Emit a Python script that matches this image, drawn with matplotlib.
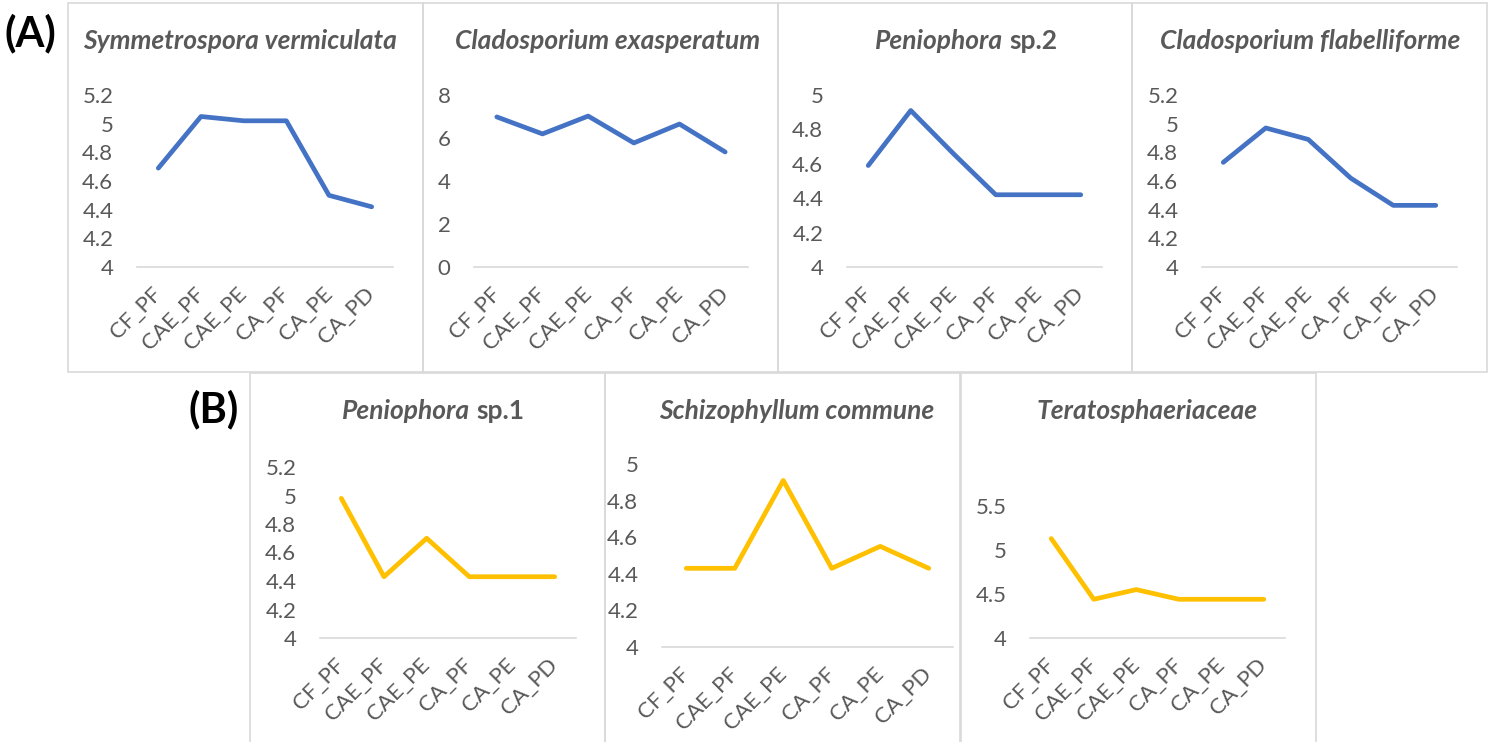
import numpy as np
import matplotlib.pyplot as plt
from matplotlib.patches import Rectangle

plt.rcParams['font.family'] = ['Lato', 'DejaVu Sans']

W, H = 1494, 742
gray = '#595959'
light = '#D9D9D9'
blue = '#4472C4'
gold = '#FFC000'

# data
categories = ['CF_PF', 'CAE_PF', 'CAE_PE', 'CA_PF', 'CA_PE', 'CA_PD']
symmetrospora = [4.69, 5.05, 5.02, 5.02, 4.50, 4.42]
clado_exasperatum = [6.98, 6.19, 7.02, 5.77, 6.65, 5.35]
peniophora_sp2 = [4.59, 4.91, 4.66, 4.42, 4.42, 4.42]
clado_flabelliforme = [4.73, 4.97, 4.89, 4.62, 4.43, 4.43]
peniophora_sp1 = [4.98, 4.43, 4.70, 4.43, 4.43, 4.43]
schizophyllum = [4.43, 4.43, 4.91, 4.43, 4.55, 4.43]
teratosphaeriaceae = [5.13, 4.44, 4.55, 4.44, 4.44, 4.44]

# (italic part, plain part, values, color, yticks, panel box, axes box, title centre x) -- pixels
panels = [
    ('Symmetrospora vermiculata', '', symmetrospora, blue, [4, 4.2, 4.4, 4.6, 4.8, 5, 5.2],
     (68, 3, 423, 372), (137, 95, 393, 267), 240),
    ('Cladosporium exasperatum', '', clado_exasperatum, blue, [0, 2, 4, 6, 8],
     (423, 3, 778, 372), (474, 95, 748, 267), 608),
    ('Peniophora', 'sp.2', peniophora_sp2, blue, [4, 4.2, 4.4, 4.6, 4.8, 5],
     (778, 3, 1132, 372), (847, 95, 1102, 267), 966),
    ('Cladosporium flabelliforme', '', clado_flabelliforme, blue, [4, 4.2, 4.4, 4.6, 4.8, 5, 5.2],
     (1132, 3, 1487, 372), (1202, 95, 1457, 267), 1310),
    ('Peniophora', 'sp.1', peniophora_sp1, gold, [4, 4.2, 4.4, 4.6, 4.8, 5, 5.2],
     (250, 373, 605, 760), (320, 467, 576, 638), 433),
    ('Schizophyllum commune', '', schizophyllum, gold, [4, 4.2, 4.4, 4.6, 4.8, 5],
     (605, 373, 960, 760), (662, 464, 953, 647), 797),
    ('Teratosphaeriaceae', '', teratosphaeriaceae, gold, [4, 4.5, 5, 5.5],
     (961, 373, 1316, 760), (1030, 506, 1285, 638), 1147),
]

fig = plt.figure(figsize=(W / 100, H / 100), dpi=100)
renderer = fig.canvas.get_renderer()


def fig_box(x0, y0, x1, y1):
    return [x0 / W, 1 - y1 / H, (x1 - x0) / W, (y1 - y0) / H]


def add_title(cx, cy, italic, plain):
    t1 = fig.text(0, 1 - cy / H, italic, style='italic', weight='bold', size=19,
                  color=gray, ha='left', va='center')
    t2 = fig.text(0, 1 - cy / H, plain, weight='bold', size=19,
                  color=gray, ha='left', va='center')
    w1 = t1.get_window_extent(renderer).width
    w2 = t2.get_window_extent(renderer).width if plain else 0
    gap = 6 if plain else 0
    x0 = cx - (w1 + gap + w2) / 2
    t1.set_x(x0 / W)
    t2.set_x((x0 + w1 + gap) / W)


for italic, plain, values, color, yticks, pbox, abox, tx in panels:
    x0, y0, x1, y1 = pbox
    fig.patches.append(Rectangle((x0 / W, 1 - y1 / H), (x1 - x0) / W, (y1 - y0) / H,
                                 transform=fig.transFigure, fill=False,
                                 edgecolor=light, lw=1.2))
    ax = fig.add_axes(fig_box(*abox))
    ax.plot(range(len(categories)), values, color=color, lw=3.4, solid_capstyle='round',
            solid_joinstyle='round')
    ax.set_xlim(-0.5, len(categories) - 0.5)
    ax.set_ylim(yticks[0], yticks[-1])
    ax.set_yticks(yticks)
    ax.set_yticklabels([f'{v:g}' for v in yticks])
    ax.set_xticks(range(len(categories)))
    ax.set_xticklabels(categories, rotation=45, ha='right', va='center',
                       rotation_mode='anchor')
    for s in ['top', 'left', 'right']:
        ax.spines[s].set_visible(False)
    ax.spines['bottom'].set_color(light)
    ax.spines['bottom'].set_linewidth(1.2)
    ax.tick_params(axis='both', length=0, labelsize=16, labelcolor=gray)
    ax.tick_params(axis='y', pad=17)
    ax.tick_params(axis='x', pad=17)
    ax.patch.set_visible(False)
    add_title(tx, y0 + 38, italic, plain)

fig.text(5 / W, 1 - 33 / H, '(A)', weight='bold', size=30, color='black', va='center')
fig.text(189 / W, 1 - 409 / H, '(B)', weight='bold', size=30, color='black', va='center')

fig.savefig('out.png', dpi=100)
